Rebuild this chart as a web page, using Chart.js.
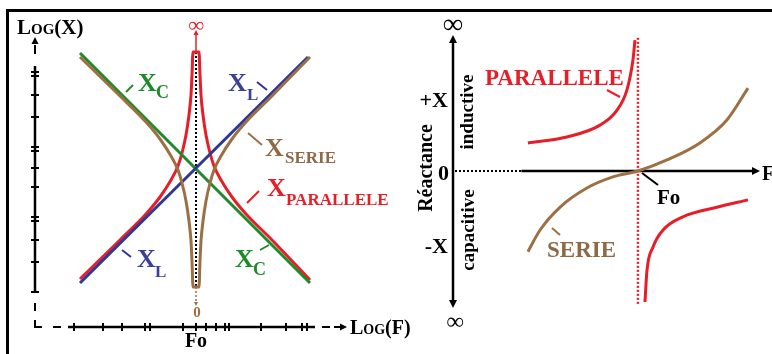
<!DOCTYPE html>
<html>
<head>
<meta charset="utf-8">
<script src="https://cdn.jsdelivr.net/npm/chart.js@4.4.1/dist/chart.umd.min.js"></script>
<style>
  body { margin: 0; background: #fff; width: 772px; height: 354px; overflow: hidden; position: relative;
         font-family: "Liberation Serif", "Times New Roman", serif; font-weight: bold; }
  #frame { position: absolute; left: 6px; top: 9px; width: 766px; height: 345px;
           border-left: 3px solid #000; border-top: 3px solid #000; box-sizing: border-box; }
  canvas { position: absolute; top: 0; }
  .t { position: absolute; white-space: nowrap; line-height: 1; }
  .sc { font-variant: small-caps; }
</style>
</head>
<body>
<div id="frame"></div>
<canvas id="left" width="400" height="354" style="left:0"></canvas>
<canvas id="right" width="372" height="354" style="left:400px"></canvas>

<script>
// --- left chart : log(F) / log(X), Fo = 0 ---
const xlLogF = [-1.16, 1.12];
const xlLogX = [-1.15, 1.11];
const xcLogF = [-1.16, 1.14];
const xcLogX = [1.15, -1.15];
const parLogF = [-1.16, -0.76, -0.50, -0.36, -0.25, -0.18, -0.14, -0.10, -0.07, -0.05, -0.04, -0.03,
                 0.03, 0.04, 0.05, 0.07, 0.10, 0.14, 0.18, 0.25, 0.36, 0.50, 0.76, 1.14];
const parLogX = [-1.11, -0.72, -0.46, -0.29, -0.12, 0.02, 0.15, 0.33, 0.53, 0.73, 0.93, 1.16,
                 1.16, 0.93, 0.73, 0.53, 0.33, 0.15, 0.02, -0.12, -0.29, -0.46, -0.72, -1.12];
const serLogF = [-1.16, -0.76, -0.50, -0.36, -0.25, -0.18, -0.14, -0.10, -0.07, -0.05, -0.04, -0.03,
                 0.03, 0.04, 0.05, 0.07, 0.10, 0.14, 0.18, 0.25, 0.36, 0.50, 0.76, 1.14];
const serLogX = [1.11, 0.72, 0.46, 0.29, 0.12, -0.02, -0.15, -0.33, -0.53, -0.73, -0.93, -1.19,
                 -1.19, -0.93, -0.73, -0.53, -0.33, -0.15, -0.02, 0.12, 0.29, 0.46, 0.72, 1.11];
const logXTicks = [0.96, 0.92, 0.73, 0.51, 0.21, 0.17, 0, -0.19, -0.49, -0.53, -0.72, -0.94, -1.24];
const logFTicks = [-1.22, -0.93, -0.74, -0.51, -0.46, -0.13, 0, 0.10, 0.20, 0.29, 0.33, 0.65, 0.90, 1.06, 1.11];

// --- right chart : F / reactance, Fo = 1 ---
const parUpF = [0.405, 0.616, 0.795, 0.886, 0.941, 0.973, 0.984];
const parUpX = [0.38, 0.46, 0.62, 0.82, 1.10, 1.50, 1.77];
const parLoF = [1.038, 1.049, 1.081, 1.135, 1.243, 1.427, 1.595];
const parLoX = [-1.77, -1.34, -1.03, -0.80, -0.62, -0.49, -0.39];
const serF = [0.405, 0.47, 0.578, 0.724, 0.865, 1.0, 1.157, 1.335, 1.481, 1.595];
const serX = [-1.09, -0.80, -0.49, -0.23, -0.08, 0, 0.15, 0.38, 0.69, 1.12];

const RED = '#e61e28', GREEN = '#1f8a2a', BLUE = '#2d379a', BROWN = '#9c7044';
const BROWN_T = '#8d6a45', BLUE_T = '#3a3f98';

function pts(xs, ys) { return xs.map((x, i) => ({ x: x, y: ys[i] })); }

function line(ctx, x1, y1, x2, y2, color, w, dash) {
  ctx.save();
  ctx.strokeStyle = color; ctx.lineWidth = w; ctx.setLineDash(dash || []);
  ctx.beginPath(); ctx.moveTo(x1, y1); ctx.lineTo(x2, y2); ctx.stroke();
  ctx.restore();
}
function arrow(ctx, x, y, dir, color, s) {
  // dir: 'up','down','right'
  ctx.save(); ctx.fillStyle = color; ctx.beginPath();
  if (dir === 'up') { ctx.moveTo(x, y); ctx.lineTo(x - s / 2, y + s); ctx.lineTo(x + s / 2, y + s); }
  if (dir === 'down') { ctx.moveTo(x, y); ctx.lineTo(x - s / 2, y - s); ctx.lineTo(x + s / 2, y - s); }
  if (dir === 'right') { ctx.moveTo(x, y); ctx.lineTo(x - s, y - s / 2); ctx.lineTo(x - s, y + s / 2); }
  ctx.closePath(); ctx.fill(); ctx.restore();
}

const leftDeco = {
  id: 'leftDeco',
  beforeDatasetsDraw(chart) {
    const ctx = chart.ctx, a = chart.chartArea, sx = chart.scales.x, sy = chart.scales.y;
    const ax = a.left, ay = a.bottom, fo = sx.getPixelForValue(0);
    // vertical log(X) axis
    arrow(ctx, ax, a.top - 3, 'up', '#000', 7);
    line(ctx, ax, a.top + 5, ax, a.top + 14, '#000', 2);
    line(ctx, ax, a.top + 26, ax, ay - 34, '#000', 2.5);
    line(ctx, ax, ay - 24, ax, ay - 16, '#000', 2);
    line(ctx, ax, ay - 7, ax, ay + 1, '#000', 2);
    logXTicks.forEach(v => { const y = sy.getPixelForValue(v); line(ctx, ax - 4, y, ax + 4, y, '#000', 2); });
    // horizontal log(F) axis
    line(ctx, ax - 1, ay, ax + 7, ay, '#000', 2);
    line(ctx, ax + 18, ay, ax + 26, ay, '#000', 2);
    line(ctx, ax + 33, ay, a.right - 32, ay, '#000', 2.5);
    line(ctx, a.right - 25, ay, a.right - 17, ay, '#000', 2);
    line(ctx, a.right - 13, ay, a.right - 7, ay, '#000', 2);
    arrow(ctx, a.right, ay, 'right', '#000', 7);
    logFTicks.forEach(v => { const x = sx.getPixelForValue(v); line(ctx, x, ay - 4, x, ay + 4, '#000', 2); });
    // Fo dotted line, infinity arrow, zero arrow
    line(ctx, fo, sy.getPixelForValue(1.16), fo, sy.getPixelForValue(-1.19), '#000', 2, [2, 2]);
    line(ctx, fo, sy.getPixelForValue(1.16), fo, 34, RED, 1.5);
    arrow(ctx, fo, 30, 'up', RED, 5);
    line(ctx, fo, sy.getPixelForValue(-1.19), fo, 302, BROWN, 1.5, [2, 2]);
    arrow(ctx, fo, 306, 'down', BROWN, 4);
  },
  afterDatasetsDraw(chart) {
    const ctx = chart.ctx;
    // leader strokes of the labels
    line(ctx, 126, 92, 133, 85, GREEN, 2);
    line(ctx, 257, 82, 267, 90, BLUE, 2);
    line(ctx, 248, 133, 262, 145, BROWN, 2);
    line(ctx, 247, 203, 259, 191, RED, 2);
    line(ctx, 260, 250, 269, 245, GREEN, 2);
    line(ctx, 122, 250, 131, 257, BLUE, 2);
  }
};

const rightDeco = {
  id: 'rightDeco',
  beforeDatasetsDraw(chart) {
    const ctx = chart.ctx, a = chart.chartArea, sx = chart.scales.x, sy = chart.scales.y;
    const ax = sx.getPixelForValue(0), y0 = sy.getPixelForValue(0), fo = sx.getPixelForValue(1);
    // reactance axis
    line(ctx, ax, a.top + 6, ax, a.bottom - 6, '#000', 2.5);
    arrow(ctx, ax, a.top, 'up', '#000', 8);
    arrow(ctx, ax, a.bottom, 'down', '#000', 8);
    // frequency axis
    line(ctx, ax + 2, y0, sx.getPixelForValue(0.37), y0, '#000', 2, [2, 2]);
    line(ctx, sx.getPixelForValue(0.37), y0, a.right - 6, y0, '#000', 2.5);
    arrow(ctx, a.right, y0, 'right', '#000', 8);
    // Fo red dotted
    line(ctx, fo, sy.getPixelForValue(1.80), fo, sy.getPixelForValue(-1.81), RED, 2.5, [2, 2]);
  },
  afterDatasetsDraw(chart) {
    const ctx = chart.ctx;
    line(ctx, 207, 90, 220, 97, RED, 2);
    line(ctx, 152, 228, 160, 235, BROWN, 2);
    line(ctx, 242, 173, 258, 185, '#000', 2);
  }
};

const common = {
  responsive: false, animation: false, devicePixelRatio: 1,
  plugins: { legend: { display: false }, tooltip: { enabled: false } },
  elements: { point: { radius: 0 }, line: { borderWidth: 3, cubicInterpolationMode: 'monotone', capBezierPoints: true } }
};

new Chart(document.getElementById('left'), {
  type: 'line',
  data: {
    datasets: [
      { label: 'X SERIE', data: pts(serLogF, serLogX), borderColor: BROWN, clip: false },
      { label: 'X L', data: pts(xlLogF, xlLogX), borderColor: BLUE, clip: false },
      { label: 'X C', data: pts(xcLogF, xcLogX), borderColor: GREEN, clip: false },
      { label: 'X PARALLELE', data: pts(parLogF, parLogX), borderColor: RED, clip: false }
    ]
  },
  options: Object.assign({}, common, {
    layout: { padding: { left: 35, right: 53, top: 40, bottom: 27 } },
    scales: {
      x: { type: 'linear', min: -1.61, max: 1.51, display: false },
      y: { type: 'linear', min: -1.59, max: 1.28, display: false }
    }
  }),
  plugins: [leftDeco]
});

new Chart(document.getElementById('right'), {
  type: 'line',
  data: {
    datasets: [
      { label: 'SERIE', data: pts(serF, serX), borderColor: BROWN, clip: false },
      { label: 'PARALLELE', data: pts(parUpF, parUpX), borderColor: RED, clip: false },
      { label: 'PARALLELE ', data: pts(parLoF, parLoX), borderColor: RED, clip: false }
    ]
  },
  options: Object.assign({}, common, {
    layout: { padding: { left: 53, right: 12, top: 35, bottom: 46 } },
    scales: {
      x: { type: 'linear', min: 0, max: 1.66, display: false },
      y: { type: 'linear', min: -1.851, max: 1.838, display: false }
    }
  }),
  plugins: [rightDeco]
});

// --- text labels ---
function label(text, x, base, size, color, align, cls) {
  const d = document.createElement('div');
  d.className = 't' + (cls ? ' ' + cls : '');
  d.textContent = text;
  d.style.fontSize = size + 'px';
  d.style.color = color;
  d.style.left = x + 'px';
  d.style.top = (base - 0.84 * size) + 'px';
  if (align === 'center') d.style.transform = 'translateX(-50%)';
  if (align === 'right') d.style.transform = 'translateX(-100%)';
  document.body.appendChild(d);
}
function vlabel(text, cx, cy, size, color) {
  const d = document.createElement('div');
  d.className = 't';
  d.textContent = text;
  d.style.fontSize = size + 'px';
  d.style.color = color;
  d.style.left = cx + 'px';
  d.style.top = cy + 'px';
  d.style.transform = 'translate(-50%,-50%) rotate(-90deg)';
  document.body.appendChild(d);
}

label('Log(X)', 17, 35, 21, '#000', null, 'sc');
label('Log(F)', 350, 334, 20, '#000', null, 'sc');
label('Fo', 196, 347, 20, '#000', 'center');
label('\u221E', 196, 32, 22, RED, 'center');
label('0', 197, 318, 15, BROWN, 'center');
label('X', 138, 92, 26, GREEN); label('C', 156, 98, 18, GREEN);
label('X', 228, 92, 26, BLUE_T); label('L', 247, 100, 17, BLUE_T);
label('X', 265, 157, 26, BROWN_T); label('SERIE', 285, 163, 17, BROWN_T);
label('X', 267, 197, 26, RED); label('PARALLELE', 286, 205, 17, RED);
label('X', 235, 268, 26, GREEN); label('C', 253, 275, 18, GREEN);
label('X', 137, 268, 26, BLUE_T); label('L', 155, 277, 17, BLUE_T);

label('\u221E', 453, 34, 28, '#000', 'center');
label('\u221E', 455, 329, 24, '#000', 'center');
label('+X', 448, 107, 22, '#000', 'right');
label('0', 449, 180, 22, '#000', 'right');
label('-X', 448, 253, 22, '#000', 'right');
vlabel('Réactance', 425, 168, 20, '#000');
vlabel('inductive', 466, 112, 19, '#000');
vlabel('capacitive', 467, 230, 19, '#000');
label('PARALLELE', 485, 85, 23, RED);
label('SERIE', 547, 257, 23, BROWN_T);
label('Fo', 657, 205, 21, '#000');
label('F', 762, 180, 20, '#000');
</script>
</body>
</html>
